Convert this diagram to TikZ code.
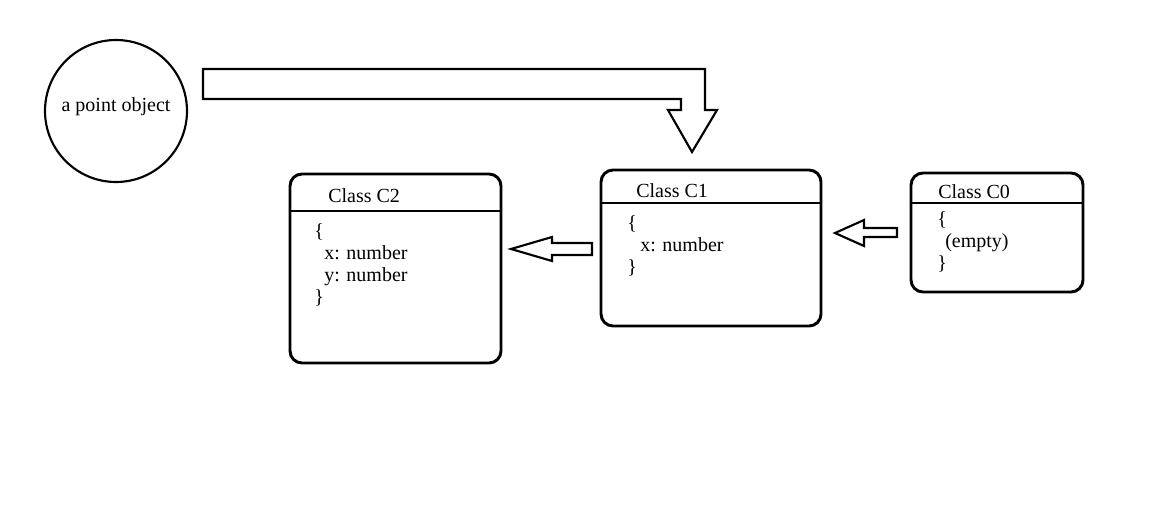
\documentclass[tikz,border=0pt]{standalone}
\usepackage{fontspec}
\setmainfont{Liberation Serif}
\usepackage{tikz}
\usetikzlibrary{positioning}

\begin{document}
\begin{tikzpicture}[
  x=0.75pt, y=-0.75pt,
  font=\fontsize{15}{16.5}\selectfont,
  classbox/.style={rectangle, rounded corners=9pt, draw=black,
                   line width=2.2pt, inner sep=0pt},
  headline/.style={draw=black, line width=2.2pt},
  title/.style={anchor=west, inner sep=0pt},
  body/.style={anchor=north west, inner sep=0pt, align=left},
  objcircle/.style={circle, draw=black, line width=1.6pt,
                    minimum size=106.5pt, inner sep=0pt},
  blockarrow/.style={draw=black, line width=1.6pt, fill=white,
                     line join=miter},
]

\useasboundingbox (0,0) rectangle (1166,517);

% the object
\node[objcircle] (obj) at (116,111) {\raisebox{0pt}[0pt][0pt]{a point object}};

% class boxes
\node[classbox, minimum width=158.25pt, minimum height=141.75pt] (c2) at (395.5,268.5) {};
\node[classbox, minimum width=165pt, minimum height=117pt] (c1) at (711,248) {};
\node[classbox, minimum width=129pt, minimum height=89.25pt] (c0) at (997,232.5) {};

\draw[headline] (c2.west |- 0,211) -- (c2.east |- 0,211);
\draw[headline] (c1.west |- 0,203) -- (c1.east |- 0,203);
\draw[headline] (c0.west |- 0,203) -- (c0.east |- 0,203);

\node[title] (c2title) at (328,196) {Class C2};
\node[title] (c1title) at (636,191) {Class C1};
\node[title] (c0title) at (938,192) {Class C0};

\node[body] (c2body) at (314,223) {\{\\\hspace*{7.5pt}x: number\\\hspace*{7.5pt}y: number\\\}};
\node[body] (c1body) at (627,215) {\{\\\hspace*{9.75pt}x: number\\\}};
\node[body] (c0body) at (937,211) {\{\\\hspace*{6pt}(empty)\\\}};

% block arrows
\draw[blockarrow] (203,69) -- (705,69) -- (705,110) -- (717,110) -- (692,152)
  -- (668,110) -- (681,110) -- (681,99) -- (203,99) -- cycle;
\draw[blockarrow] (592,243) -- (552,243) -- (552,237) -- (511,249)
  -- (552,261) -- (552,255) -- (592,255) -- cycle;
\draw[blockarrow] (897,228) -- (864,228) -- (864,220) -- (835,233)
  -- (864,246) -- (864,237) -- (897,237) -- cycle;

\end{tikzpicture}
\end{document}
